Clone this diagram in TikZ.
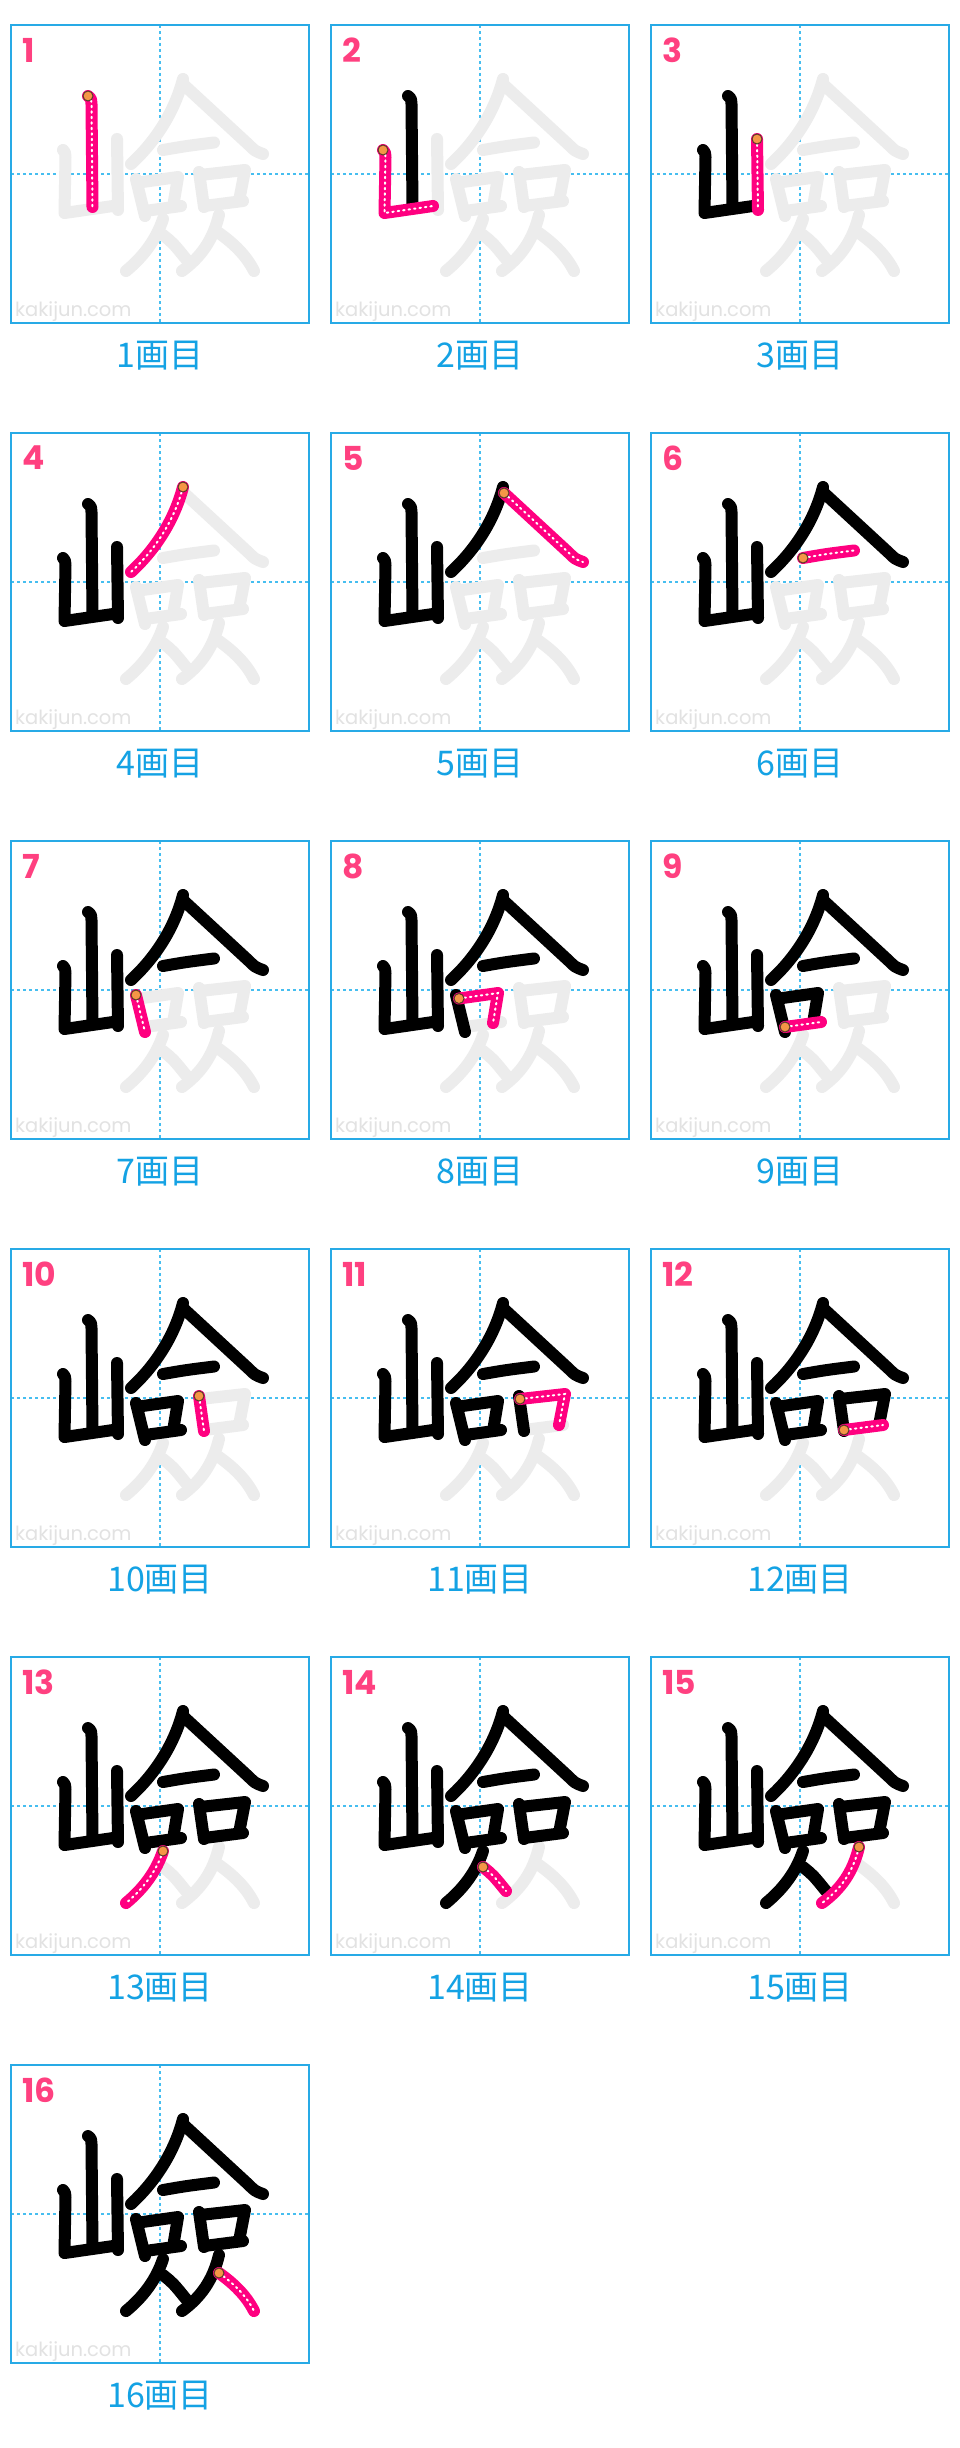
\documentclass[tikz,border=0pt]{standalone}
\usepackage{fontspec}
\setmainfont{Poppins}
\newfontfamily\jpfont{Noto Sans CJK JP}

\definecolor{boxblue}{RGB}{40,170,230}
\definecolor{guideblue}{RGB}{70,190,240}
\definecolor{labelblue}{RGB}{20,162,228}
\definecolor{numpink}{RGB}{255,64,128}
\definecolor{strokepink}{RGB}{255,0,128}
\definecolor{ghostgray}{RGB}{236,236,236}
\definecolor{markgray}{RGB}{226,226,226}
\definecolor{dotorange}{RGB}{245,150,70}
\definecolor{dotedge}{RGB}{90,60,40}

\begin{document}
\begin{tikzpicture}[x=1pt,y=-1pt,
    ink/.style={draw=black,line width=12pt,line cap=round,line join=round},
    ghost/.style={draw=ghostgray,line width=12pt,line cap=round,line join=round},
    pinkink/.style={draw=strokepink,line width=12pt,line cap=round,line join=round},
    dotline/.style={draw=white,line width=2pt,line cap=round,dash pattern=on 1.5pt off 4pt},
    startdot/.style={fill=dotorange,draw=dotedge,line width=1pt},
    boxline/.style={draw=boxblue,line width=1.5pt},
    guideline/.style={draw=guideblue,line width=1.2pt,dash pattern=on 3pt off 3pt},
    numlabel/.style={anchor=west,inner sep=0pt,text=numpink,font=\bfseries\fontsize{33}{33}\selectfont},
    steplabel/.style={inner sep=0pt,text=labelblue,font=\jpfont\fontsize{34}{34}\selectfont},
    watermark/.style={anchor=west,inner sep=0pt,text=markgray,font=\fontsize{19.5}{19.5}\selectfont}]
  \useasboundingbox (0,0) rectangle (960,2448);
  \fill[white] (0,0) rectangle (960,2448);
  \newcommand{\kanjistroke}[2]{%
    \ifcase#1\or
    \draw[#2] (77,71) coordinate (kstart) .. controls (80,73) .. (80.5,79) -- (81.5,182);\or
    \draw[#2] (52,125) coordinate (kstart) .. controls (54,127) .. (54.5,132) -- (53.5,188) -- (102,181);\or
    \draw[#2] (106,114) coordinate (kstart) -- (107,185);\or
    \draw[#2] (172,54) coordinate (kstart) .. controls (164,85) and (146,115) .. (120,139);\or
    \draw[#2] (173,60) coordinate (kstart) -- (238,120) .. controls (244,126) .. (252,129);\or
    \draw[#2] (152,125) coordinate (kstart) .. controls (175,121) .. (203,117.5);\or
    \draw[#2] (125,154) coordinate (kstart) -- (134,191);\or
    \draw[#2] (128,157.5) coordinate (kstart) -- (167,152) -- (162,182);\or
    \draw[#2] (134,186) coordinate (kstart) -- (170,181);\or
    \draw[#2] (188,147) coordinate (kstart) -- (193,182);\or
    \draw[#2] (189,150) coordinate (kstart) -- (234,145) -- (228,176);\or
    \draw[#2] (193,181) coordinate (kstart) -- (232,176);\or
    \draw[#2] (152,194) coordinate (kstart) .. controls (145,215) and (132,232) .. (115,246);\or
    \draw[#2] (152,210) coordinate (kstart) .. controls (162,218) .. (175,234);\or
    \draw[#2] (208,190) coordinate (kstart) .. controls (202,215) and (190,232) .. (171,246);\or
    \draw[#2] (208,208) coordinate (kstart) .. controls (222,218) and (235,230) .. (243,246);\fi}
  \foreach \n in {1,...,16}{
    \pgfmathtruncatemacro{\colno}{mod(\n-1,3)}
    \pgfmathtruncatemacro{\rowno}{div(\n-1,3)}
    \begin{scope}[shift={(11+320*\colno,25+408*\rowno)}]
      \draw[guideline] (149,0) -- (149,298);% vertical guide
      \draw[guideline] (0,149) -- (298,149);% horizontal guide
      \draw[boxline] (0,0) rectangle (298,298);
      \node[watermark] (mark\n) at (4,287) {kakijun.com};
      \node[numlabel] (num\n) at (11,25) {\n};
      \node[steplabel] (lab\n) at (149,331) {{\n}画目};
      \foreach \s in {1,...,16}{\ifnum\s>\n\relax\kanjistroke{\s}{ghost}\fi}% strokes still to come
      \foreach \s in {1,...,16}{\ifnum\s<\n\relax\kanjistroke{\s}{ink}\fi}% strokes done
      \kanjistroke{\n}{pinkink}
      \kanjistroke{\n}{dotline}
      \draw[startdot] (kstart) circle (5);
    \end{scope}
  }
\end{tikzpicture}
\end{document}
